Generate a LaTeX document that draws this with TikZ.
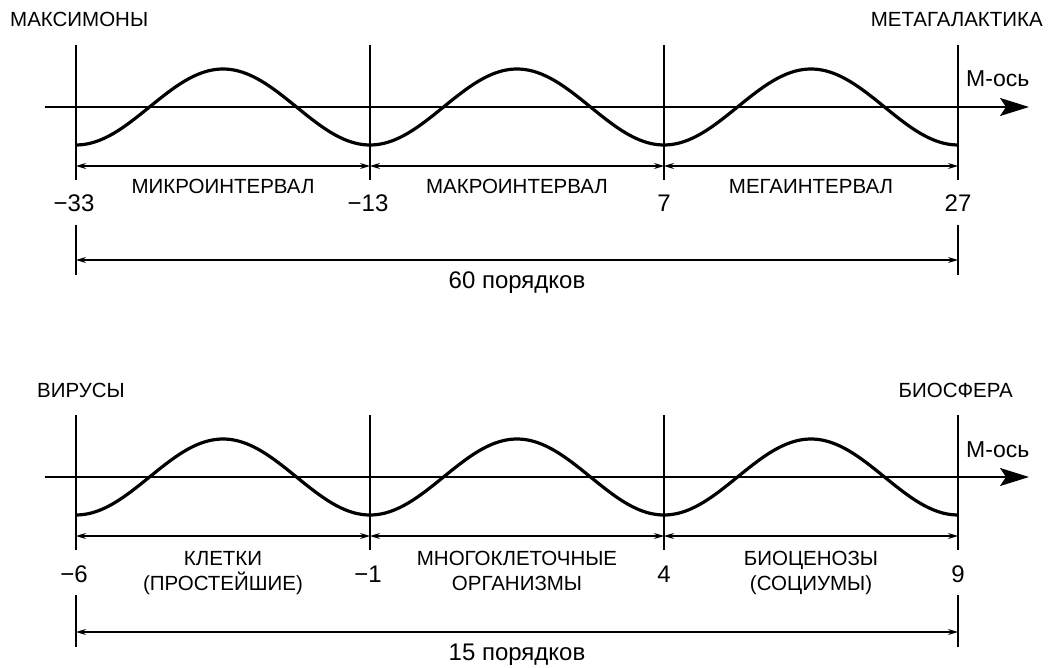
\documentclass[tikz,border=0pt]{standalone}
\usepackage{fontspec}
\setmainfont{Liberation Sans}
\usetikzlibrary{arrows.meta}

\begin{document}
\begin{tikzpicture}[x=1pt,y=-1pt,>={Stealth[length=10pt,width=6pt]},
  every node/.style={inner sep=0pt},
  wave/.style={line width=3.2pt},
  tick/.style={line width=1.4pt},
  axis/.style={line width=2pt,-{Stealth[length=29pt,width=18pt,inset=6pt]}},
  dim/.style={line width=1.2pt,<->},
  lab/.style={font=\fontsize{20.5}{25}\selectfont,align=center},
  num/.style={font=\fontsize{24}{28}\selectfont}]
  \useasboundingbox (0,0) rectangle (1049,668);

  % upper scale
  \node[lab,anchor=base west] (maks) at (10,27) {МАКСИМОНЫ};
  \node[lab,anchor=base east] (meta) at (1043,27) {МЕТАГАЛАКТИКА};
  \node[num,anchor=base west,font=\fontsize{23}{27}\selectfont] (Tm) at (966,87) {М-ось};

  \coordinate (T0) at (76,45);
  \coordinate (T1) at (370,45);
  \coordinate (T2) at (664,45);
  \coordinate (T3) at (958,45);
  \coordinate (t0) at (76,180);
  \coordinate (t1) at (370,180);
  \coordinate (t2) at (664,180);
  \coordinate (t3) at (958,180);
  \draw[tick] (T0) -- (t0);
  \draw[tick] (T1) -- (t1);
  \draw[tick] (T2) -- (t2);
  \draw[tick] (T3) -- (t3);

  \coordinate (Ta) at (45,107);
  \coordinate (Tb) at (1029,107);
  \draw[axis] (Ta) -- (Tb);
  \draw[wave] plot[domain=0:3,samples=151,smooth] ({76+294*\x},{107+38*cos(360*\x)});

  \coordinate (D0) at (76,166);
  \coordinate (D1) at (370,166);
  \coordinate (D2) at (664,166);
  \coordinate (D3) at (958,166);
  \draw[dim] (D0) -- node[lab,anchor=base,yshift=-28pt] {МИКРОИНТЕРВАЛ} (D1);
  \draw[dim] (D1) -- node[lab,anchor=base,yshift=-28pt] {МАКРОИНТЕРВАЛ} (D2);
  \draw[dim] (D2) -- node[lab,anchor=base,yshift=-28pt] {МЕГАИНТЕРВАЛ} (D3);

  \node[num,anchor=base] (N0) at (74,212) {−33};
  \node[num,anchor=base] (N1) at (368,212) {−13};
  \node[num,anchor=base] (N2) at (664,212) {7};
  \node[num,anchor=base] (N3) at (958,212) {27};

  \coordinate (L0) at (76,225);
  \coordinate (l0) at (76,275);
  \coordinate (L1) at (958,225);
  \coordinate (l1) at (958,275);
  \draw[tick] (L0) -- (l0);
  \draw[tick] (L1) -- (l1);
  \coordinate (S0) at (76,260);
  \coordinate (S1) at (958,260);
  \draw[dim] (S0) -- node[num,anchor=base,yshift=-28pt] {60 порядков} (S1);

  % lower scale
  \begin{scope}[shift={(0,370)}]
  \node[lab,anchor=base west] (vir) at (37,27) {ВИРУСЫ};
  \node[lab,anchor=base east] (bio) at (1013,27) {БИОСФЕРА};
  \node[num,anchor=base west,font=\fontsize{23}{27}\selectfont] (Bm) at (966,87) {М-ось};

  \coordinate (B0) at (76,45);
  \coordinate (B1) at (370,45);
  \coordinate (B2) at (664,45);
  \coordinate (B3) at (958,45);
  \coordinate (b0) at (76,180);
  \coordinate (b1) at (370,180);
  \coordinate (b2) at (664,180);
  \coordinate (b3) at (958,180);
  \draw[tick] (B0) -- (b0);
  \draw[tick] (B1) -- (b1);
  \draw[tick] (B2) -- (b2);
  \draw[tick] (B3) -- (b3);

  \coordinate (Ba) at (45,107);
  \coordinate (Bb) at (1029,107);
  \draw[axis] (Ba) -- (Bb);
  \draw[wave] plot[domain=0:3,samples=151,smooth] ({76+294*\x},{107+38*cos(360*\x)});

  \coordinate (E0) at (76,166);
  \coordinate (E1) at (370,166);
  \coordinate (E2) at (664,166);
  \coordinate (E3) at (958,166);
  \draw[dim] (E0) -- node[lab,anchor=base,yshift=-54pt] {КЛЕТКИ\\(ПРОСТЕЙШИЕ)} (E1);
  \draw[dim] (E1) -- node[lab,anchor=base,yshift=-54pt] {МНОГОКЛЕТОЧНЫЕ\\ОРГАНИЗМЫ} (E2);
  \draw[dim] (E2) -- node[lab,anchor=base,yshift=-54pt] {БИОЦЕНОЗЫ\\(СОЦИУМЫ)} (E3);

  \node[num,anchor=base] (M0) at (74,212) {−6};
  \node[num,anchor=base] (M1) at (368,212) {−1};
  \node[num,anchor=base] (M2) at (664,212) {4};
  \node[num,anchor=base] (M3) at (958,212) {9};

  \coordinate (K0) at (76,225);
  \coordinate (k0) at (76,277);
  \coordinate (K1) at (958,225);
  \coordinate (k1) at (958,277);
  \draw[tick] (K0) -- (k0);
  \draw[tick] (K1) -- (k1);
  \coordinate (R0) at (76,262);
  \coordinate (R1) at (958,262);
  \draw[dim] (R0) -- node[num,anchor=base,yshift=-28pt] {15 порядков} (R1);
  \end{scope}
\end{tikzpicture}
\end{document}
